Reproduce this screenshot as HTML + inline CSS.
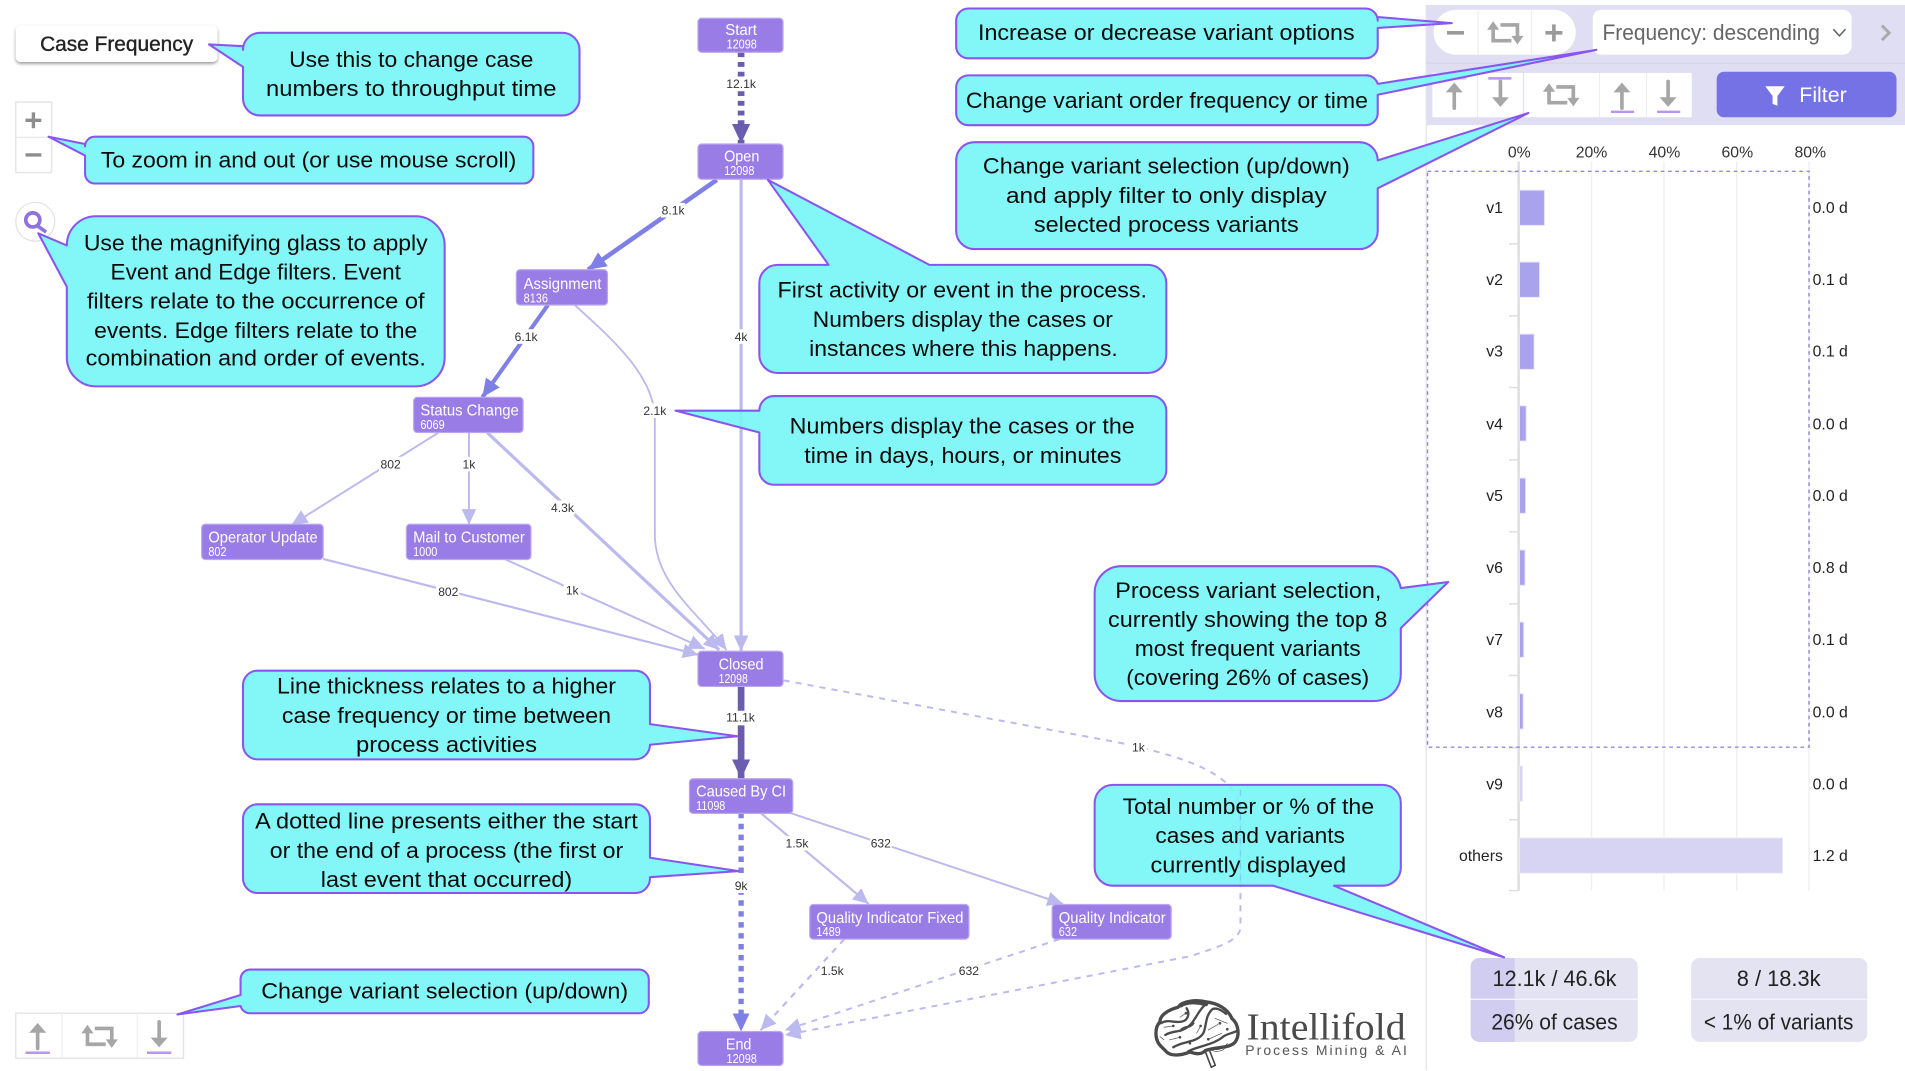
<!DOCTYPE html>
<html><head><meta charset="utf-8"><title>Process variants diagram</title>
<style>
html,body{margin:0;padding:0;background:#fff;width:1905px;height:1071px;overflow:hidden}
svg{display:block;font-family:"Liberation Sans",sans-serif}
.c{fill:#76f6f6;fill-opacity:.9;stroke:#8a55ee;stroke-width:1.7;stroke-linejoin:round}
.t{font-size:18.5px;fill:#0a0a0a;text-anchor:middle}
.n{fill:#9a7ce6;stroke:#b9a6ef;stroke-width:1}
.nl{font-size:13px;fill:#fff}
.nc{font-size:10.5px;fill:#fff}
.el{font-size:10px;fill:#333;text-anchor:middle}
.lb{fill:#fff}
.cl{font-size:13px;fill:#222;text-anchor:end}
.cr{font-size:13px;fill:#222}
.ax{font-size:13px;fill:#333;text-anchor:middle}
.st{font-size:18.5px;fill:#222;text-anchor:middle}
.ic{fill:none;stroke:#a6a6a6;stroke-width:3}
.icf{fill:#a6a6a6}
</style></head><body>
<svg xmlns="http://www.w3.org/2000/svg" width="1905" height="1071" viewBox="0 0 1568 881.5">
<defs>
<filter id="sh" x="-10%" y="-30%" width="120%" height="170%"><feDropShadow dx="0" dy="1.5" stdDeviation="1.4" flood-color="#000" flood-opacity=".4"/></filter>
<marker id="mD" markerUnits="userSpaceOnUse" markerWidth="19" markerHeight="18" refX="16" refY="8" orient="auto"><path d="M0,0.5L16,8L0,15.5Z" fill="#6a5db0"/></marker>
<marker id="mB" markerUnits="userSpaceOnUse" markerWidth="18" markerHeight="16" refX="15" refY="7" orient="auto"><path d="M0,0L15,7L0,14Z" fill="#7f80e6"/></marker>
<marker id="mL" markerUnits="userSpaceOnUse" markerWidth="16" markerHeight="14" refX="13" refY="6" orient="auto"><path d="M0,0L13,6L0,12Z" fill="#bcb9ee"/></marker>
<g id="rep"><path class="ic" d="M-10,-4V6.5H5"/><path class="ic" d="M-4,-6.5H10V4"/><path class="icf" d="M-10,-9.5L-15,-2.5H-5Z"/><path class="icf" d="M10,9.5L15,2.5H5Z"/></g>
<g id="up"><path class="ic" d="M0,-5V10" stroke-linecap="round"/><path class="icf" d="M0,-11L-7,-3H7Z"/></g>
<g id="dn"><path class="ic" d="M0,5V-10" stroke-linecap="round"/><path class="icf" d="M0,11L-7,3H7Z"/></g>
</defs>

<!-- left controls -->
<rect x="13" y="21" width="166" height="30" rx="4" fill="#fff" filter="url(#sh)"/>
<text x="96" y="42" font-size="17.5" fill="#222" text-anchor="middle" textLength="126" lengthAdjust="spacingAndGlyphs" stroke="#222" stroke-width=".3">Case Frequency</text>
<rect x="13" y="84" width="29.5" height="58" fill="#fff" stroke="#e5e5e5" stroke-width="1.2"/>
<path d="M13,113H42.5" stroke="#e5e5e5"/>
<path d="M21,99H34M27.5,92.5V105.5M21,127.5H34" stroke="#8d8d8d" stroke-width="2.8" fill="none"/>
<circle cx="29" cy="182.5" r="16" fill="#fff" stroke="#e2e2e2"/>
<circle cx="27" cy="181" r="5.8" fill="none" stroke="#8f72dc" stroke-width="3"/>
<path d="M31,186L38,191" stroke="#8f72dc" stroke-width="3"/>

<!-- bottom left controls -->
<rect x="13" y="834" width="138" height="37" fill="#fff" stroke="#e5e5e5" stroke-width="1.2"/>
<path d="M51,834V871M113,834V871" stroke="#eee"/>
<use href="#up" x="31" y="853"/><use href="#rep" x="82" y="853"/><use href="#dn" x="131" y="851"/>
<path d="M21,866.5H41M121,866.5H141" stroke="#b795ee" stroke-width="2"/>

<!-- right panel -->
<path d="M1174,4V881" stroke="#e6e6e6" stroke-width="1.2"/>
<rect x="1174" y="4" width="394" height="99" fill="#e0def2"/>
<path d="M1174,52H1568" stroke="#d6d4e8"/>
<rect x="1180" y="8" width="117" height="37" rx="18.5" fill="#fff"/>
<path d="M1216.5,8V45M1260.5,8V45" stroke="#eee"/>
<path d="M1191,27H1205M1272,27H1286M1279,20V34" stroke="#9a9a9a" stroke-width="3"/>
<use href="#rep" x="1239" y="27"/>
<rect x="1311" y="8" width="213" height="37" rx="7" fill="#fff"/>
<text x="1319" y="33" font-size="18" fill="#666" textLength="179" lengthAdjust="spacingAndGlyphs">Frequency: descending</text>
<path d="M1509,24L1514,29.5L1519,24" fill="none" stroke="#666" stroke-width="1.3"/>
<path d="M1549,21L1555,27L1549,33" fill="none" stroke="#aaa" stroke-width="2.4"/>
<g fill="#fff"><rect x="1179" y="60" width="37" height="36.5"/><rect x="1216.5" y="60" width="37" height="36.5"/><rect x="1254.5" y="60" width="62" height="36.5"/><rect x="1317" y="60" width="38" height="36.5"/><rect x="1355.5" y="60" width="37" height="36.5"/></g>
<use href="#up" x="1197" y="79"/><use href="#dn" x="1235" y="77"/><use href="#rep" x="1285" y="78"/><use href="#up" x="1335" y="79"/><use href="#dn" x="1373" y="77"/>
<path d="M1188,64.5H1207" stroke="#cfcdea" stroke-width="2"/>
<path d="M1225,64.5H1244M1326,92H1345M1364,92H1383" stroke="#b795ee" stroke-width="2"/>
<rect x="1413" y="59" width="148" height="37.5" rx="6" fill="#7572e6"/>
<path d="M1453,71H1469L1463,79V87L1459,85.5V79Z" fill="#fff"/>
<text x="1481" y="84" font-size="17.5" fill="#fff" textLength="39" lengthAdjust="spacingAndGlyphs">Filter</text>

<!-- chart -->
<g class="ax"><text x="1250.5" y="129.5">0%</text><text x="1310" y="129.5">20%</text><text x="1370" y="129.5">40%</text><text x="1430" y="129.5">60%</text><text x="1490" y="129.5">80%</text></g>
<path d="M1310,133V733M1369.6,133V733M1429.5,133V733M1489,133V733" stroke="#f0f0f0" stroke-width="1.2"/>
<path d="M1250,133V733" stroke="#dedede" stroke-width="2"/>
<path d="M1242,141.5H1250M1242,200.7H1250M1242,260H1250M1242,319H1250M1242,378.5H1250M1242,437.7H1250M1242,497H1250M1242,556H1250M1242,615.5H1250M1242,674.7H1250M1242,733H1250" stroke="#dedede" stroke-width="1.2"/>
<g fill="#a8a3ec" stroke="#e6e4f8" stroke-width=".8">
<rect x="1250.7" y="156.5" width="20.5" height="29"/>
<rect x="1250.7" y="215.7" width="16.5" height="29"/>
<rect x="1250.7" y="275" width="12" height="29"/>
<rect x="1250.7" y="334" width="5.5" height="29"/>
<rect x="1250.7" y="393.5" width="5" height="29"/>
<rect x="1250.7" y="452.7" width="4.5" height="29"/>
<rect x="1250.7" y="512" width="3.5" height="29"/>
<rect x="1250.7" y="571" width="3" height="29"/>
</g>
<g fill="#d6d4f2" stroke="#eceaf9" stroke-width=".8">
<rect x="1250.7" y="630.5" width="2.5" height="29"/>
<rect x="1250.7" y="689.7" width="216.5" height="29"/>
</g>
<g class="cl"><text x="1237" y="175.5">v1</text><text x="1237" y="234.5">v2</text><text x="1237" y="293.5">v3</text><text x="1237" y="353.5">v4</text><text x="1237" y="412.5">v5</text><text x="1237" y="471.5">v6</text><text x="1237" y="531">v7</text><text x="1237" y="590.5">v8</text><text x="1237" y="650">v9</text><text x="1237" y="708.5">others</text></g>
<g class="cr"><text x="1492" y="175.5">0.0 d</text><text x="1492" y="234.5">0.1 d</text><text x="1492" y="293.5">0.1 d</text><text x="1492" y="353.5">0.0 d</text><text x="1492" y="412.5">0.0 d</text><text x="1492" y="471.5">0.8 d</text><text x="1492" y="531">0.1 d</text><text x="1492" y="590.5">0.0 d</text><text x="1492" y="650">0.0 d</text><text x="1492" y="708.5">1.2 d</text></g>
<rect x="1175" y="141" width="314" height="474" fill="none" stroke="#9a85dc" stroke-width="1.2" stroke-dasharray="3 3"/>

<!-- stats -->
<rect x="1210.5" y="788.5" width="137.5" height="69" rx="7" fill="#e4e3f1"/>
<path d="M1246.7,788.5H1217.5a7,7 0 0 0-7,7V850.5a7,7 0 0 0 7,7H1246.7Z" fill="#d0cdf0"/>
<rect x="1392" y="788.5" width="145" height="69" rx="7" fill="#e4e3f1"/>
<path d="M1210.5,822.5H1348M1392,822.5H1537" stroke="#f4f3fb" stroke-width="1.2"/>
<text class="st" x="1279.5" y="811.5" textLength="102" lengthAdjust="spacingAndGlyphs">12.1k / 46.6k</text>
<text class="st" x="1279.5" y="847.5" textLength="104" lengthAdjust="spacingAndGlyphs">26% of cases</text>
<text class="st" x="1464" y="811.5" textLength="69" lengthAdjust="spacingAndGlyphs">8 / 18.3k</text>
<text class="st" x="1464" y="847.5" textLength="123" lengthAdjust="spacingAndGlyphs">&lt; 1% of variants</text>

<!-- edges -->
<g fill="none" stroke-linecap="butt">
<path d="M610,148V536" stroke="#bcb9ee" stroke-width="2.6" marker-end="url(#mL)"/>
<path d="M473,251C505,280 539,310 539,345V440C539,480 575,505 598,535" stroke="#bcb9ee" stroke-width="1.5" marker-end="url(#mL)"/>
<path d="M401,356L592,535" stroke="#bcb9ee" stroke-width="2.6" marker-end="url(#mL)"/>
<path d="M266,460L575,539" stroke="#bcb9ee" stroke-width="1.8" marker-end="url(#mL)"/>
<path d="M415,460L580,534" stroke="#bcb9ee" stroke-width="1.6" marker-end="url(#mL)"/>
<path d="M361,356L240,432" stroke="#bcb9ee" stroke-width="1.6" marker-end="url(#mL)"/>
<path d="M386,356V432" stroke="#bcb9ee" stroke-width="1.6" marker-end="url(#mL)"/>
<path d="M626,669L715,744" stroke="#bcb9ee" stroke-width="1.8" marker-end="url(#mL)"/>
<path d="M650,669L875,744" stroke="#bcb9ee" stroke-width="1.6" marker-end="url(#mL)"/>
<path d="M695,773L626,848" stroke="#bcb9ee" stroke-width="1.8" stroke-dasharray="5 5" marker-end="url(#mL)"/>
<path d="M872,773L646,848" stroke="#bcb9ee" stroke-width="1.6" stroke-dasharray="5 5" marker-end="url(#mL)"/>
<path d="M645,560L920,611C985,625 1021,640 1021,670V763C1021,775 1000,780 980,787L646,852" stroke="#bcb9ee" stroke-width="1.6" stroke-dasharray="5 5" marker-end="url(#mL)"/>
<path d="M590,148L484,222" stroke="#7f80e6" stroke-width="3.8" marker-end="url(#mB)"/>
<path d="M451,251L397,327" stroke="#7f80e6" stroke-width="3.4" marker-end="url(#mB)"/>
<path d="M610,43V118" stroke="#6a5db0" stroke-width="5.5" stroke-dasharray="4 4" marker-end="url(#mD)"/>
<path d="M610,565V641" stroke="#6a5db0" stroke-width="5.5" marker-end="url(#mD)"/>
<path d="M610,669V849" stroke="#7f80e6" stroke-width="4.4" stroke-dasharray="4.5 4.5" marker-end="url(#mB)"/>
</g>

<!-- edge labels -->
<g class="lb">
<rect x="597" y="63" width="26" height="12"/><rect x="544" y="167" width="20" height="12"/><rect x="423" y="271" width="20" height="12"/><rect x="603" y="271" width="14" height="12"/><rect x="529" y="332" width="20" height="12"/><rect x="312" y="376" width="19" height="12"/><rect x="380" y="376" width="12" height="12"/><rect x="453" y="412" width="20" height="12"/><rect x="359" y="481" width="19" height="12"/><rect x="464" y="480" width="14" height="12"/><rect x="597" y="585" width="25" height="12"/><rect x="646" y="688" width="20" height="12"/><rect x="716" y="688" width="18" height="12"/><rect x="603" y="723" width="14" height="12"/><rect x="675" y="793" width="20" height="12"/><rect x="788" y="793" width="19" height="12"/><rect x="930" y="609" width="14" height="12"/>
</g>
<g class="el">
<text x="610" y="72.5">12.1k</text><text x="554" y="176.5">8.1k</text><text x="433" y="280.5">6.1k</text><text x="610" y="280.5">4k</text><text x="539" y="341.5">2.1k</text><text x="321.5" y="385.5">802</text><text x="386" y="385.5">1k</text><text x="463" y="421.5">4.3k</text><text x="369" y="490.5">802</text><text x="471" y="489.5">1k</text><text x="609.5" y="594">11.1k</text><text x="656" y="697.5">1.5k</text><text x="725" y="697.5">632</text><text x="610" y="732.5">9k</text><text x="685" y="802.5">1.5k</text><text x="797.5" y="802.5">632</text><text x="937" y="618.5">1k</text>
</g>

<!-- nodes -->
<rect class="n" x="574.5" y="15" width="70" height="28" rx="3"/>
<text class="nl" x="597" y="29" textLength="26" lengthAdjust="spacingAndGlyphs">Start</text><text class="nc" x="598" y="40" textLength="25" lengthAdjust="spacingAndGlyphs">12098</text>
<rect class="n" x="574.5" y="118.5" width="70" height="29" rx="3"/>
<text class="nl" x="596" y="133" textLength="29" lengthAdjust="spacingAndGlyphs">Open</text><text class="nc" x="596" y="144" textLength="25" lengthAdjust="spacingAndGlyphs">12098</text>
<rect class="n" x="425" y="222" width="75" height="29" rx="3"/>
<text class="nl" x="431" y="238" textLength="64" lengthAdjust="spacingAndGlyphs">Assignment</text><text class="nc" x="431" y="249" textLength="20" lengthAdjust="spacingAndGlyphs">8136</text>
<rect class="n" x="340.5" y="327" width="90" height="29" rx="3"/>
<text class="nl" x="346" y="342" textLength="81" lengthAdjust="spacingAndGlyphs">Status Change</text><text class="nc" x="346" y="353" textLength="20" lengthAdjust="spacingAndGlyphs">6069</text>
<rect class="n" x="166" y="431.5" width="100" height="29" rx="3"/>
<text class="nl" x="171.5" y="446.5" textLength="90" lengthAdjust="spacingAndGlyphs">Operator Update</text><text class="nc" x="171.5" y="457.5" textLength="15" lengthAdjust="spacingAndGlyphs">802</text>
<rect class="n" x="334.5" y="431.5" width="102.5" height="29" rx="3"/>
<text class="nl" x="340" y="446.5" textLength="92" lengthAdjust="spacingAndGlyphs">Mail to Customer</text><text class="nc" x="340" y="457.5" textLength="20" lengthAdjust="spacingAndGlyphs">1000</text>
<rect class="n" x="574.5" y="536" width="70" height="29" rx="3"/>
<text class="nl" x="591.5" y="551" textLength="37" lengthAdjust="spacingAndGlyphs">Closed</text><text class="nc" x="591.5" y="562" textLength="24" lengthAdjust="spacingAndGlyphs">12098</text>
<rect class="n" x="567.5" y="641" width="85" height="28.5" rx="3"/>
<text class="nl" x="573" y="655.5" textLength="74" lengthAdjust="spacingAndGlyphs">Caused By CI</text><text class="nc" x="573" y="666.5" textLength="24" lengthAdjust="spacingAndGlyphs">11098</text>
<rect class="n" x="666.5" y="744.5" width="131" height="28.5" rx="3"/>
<text class="nl" x="672" y="759.5" textLength="121" lengthAdjust="spacingAndGlyphs">Quality Indicator Fixed</text><text class="nc" x="672" y="770.5" textLength="20" lengthAdjust="spacingAndGlyphs">1489</text>
<rect class="n" x="866" y="744.5" width="98" height="28.5" rx="3"/>
<text class="nl" x="871.5" y="759.5" textLength="88" lengthAdjust="spacingAndGlyphs">Quality Indicator</text><text class="nc" x="871.5" y="770.5" textLength="15" lengthAdjust="spacingAndGlyphs">632</text>
<rect class="n" x="574.5" y="849" width="70" height="28" rx="3"/>
<text class="nl" x="597.5" y="864" textLength="21" lengthAdjust="spacingAndGlyphs">End</text><text class="nc" x="598" y="875" textLength="25" lengthAdjust="spacingAndGlyphs">12098</text>

<!-- callouts -->
<path class="c" d="M214,27H463a14,14 0 0 1 14,14V81a14,14 0 0 1-14,14H214a14,14 0 0 1-14-14V55L172,36.5L200,38V41a14,14 0 0 1 14-14Z"/>
<path class="c" d="M78,112.5H431a8,8 0 0 1 8,8V143a8,8 0 0 1-8,8H78a8,8 0 0 1-8-8V128L40,112.5L70,118.5V120.5a8,8 0 0 1 8-8Z"/>
<path class="c" d="M79,178H342a24,24 0 0 1 24,24V294a24,24 0 0 1-24,24H79a24,24 0 0 1-24-24V236L31.5,192L55,202a24,24 0 0 1 24-24Z"/>
<path class="c" d="M797,7H1124a10,10 0 0 1 10,10V14L1195,19L1134,23V38a10,10 0 0 1-10,10H797a10,10 0 0 1-10-10V17a10,10 0 0 1 10-10Z"/>
<path class="c" d="M797,62H1124a10,10 0 0 1 10,7L1314,41L1134,78V93a10,10 0 0 1-10,10H797a10,10 0 0 1-10-10V72a10,10 0 0 1 10-10Z"/>
<path class="c" d="M802,117H1119a15,15 0 0 1 15,15L1258,93L1134,155V190a15,15 0 0 1-15,15H802a15,15 0 0 1-15-15V132a15,15 0 0 1 15-15Z"/>
<path class="c" d="M640,218H682L632,148L765,218H945a15,15 0 0 1 15,15V292a15,15 0 0 1-15,15H640a15,15 0 0 1-15-15V233a15,15 0 0 1 15-15Z"/>
<path class="c" d="M637,326H948a12,12 0 0 1 12,12V387a12,12 0 0 1-12,12H637a12,12 0 0 1-12-12V356L556,338H625a12,12 0 0 1 12-12Z"/>
<path class="c" d="M923,466H1131a22,22 0 0 1 22,18L1192,479L1153,517V555a22,22 0 0 1-22,22H923a22,22 0 0 1-22-22V488a22,22 0 0 1 22-22Z"/>
<path class="c" d="M916,646H1138a15,15 0 0 1 15,15V714a15,15 0 0 1-15,15H1098L1238,788L1048,729H916a15,15 0 0 1-15-15V661a15,15 0 0 1 15-15Z"/>
<path class="c" d="M212,552H523a12,12 0 0 1 12,12V596L607,606L535,613a12,12 0 0 1-12,12H212a12,12 0 0 1-12-12V564a12,12 0 0 1 12-12Z"/>
<path class="c" d="M212,662H523a12,12 0 0 1 12,12V706L608,717L535,722V723a12,12 0 0 1-12,12H212a12,12 0 0 1-12-12V674a12,12 0 0 1 12-12Z"/>
<path class="c" d="M206,798H526a8,8 0 0 1 8,8V826a8,8 0 0 1-8,8H206a8,8 0 0 1-8-6L146,835L198,819V806a8,8 0 0 1 8-8Z"/>

<!-- dashed edge faintly through callout -->
<path d="M1021,650V729" stroke="#7fa6ee" stroke-width="1.1" stroke-dasharray="5 5" fill="none" opacity=".55"/>

<!-- callout text -->
<text class="t" x="338.5" y="55" textLength="201" lengthAdjust="spacingAndGlyphs">Use this to change case</text>
<text class="t" x="338.5" y="79" textLength="239" lengthAdjust="spacingAndGlyphs">numbers to throughput time</text>
<text class="t" x="254" y="138" textLength="342" lengthAdjust="spacingAndGlyphs">To zoom in and out (or use mouse scroll)</text>
<text class="t" x="210.5" y="206" textLength="283" lengthAdjust="spacingAndGlyphs">Use the magnifying glass to apply</text>
<text class="t" x="210.5" y="230" textLength="239" lengthAdjust="spacingAndGlyphs">Event and Edge filters. Event</text>
<text class="t" x="210.5" y="254" textLength="278" lengthAdjust="spacingAndGlyphs">filters relate to the occurrence of</text>
<text class="t" x="210.5" y="278" textLength="266" lengthAdjust="spacingAndGlyphs">events. Edge filters relate to the</text>
<text class="t" x="210.5" y="301" textLength="280" lengthAdjust="spacingAndGlyphs">combination and order of events.</text>
<text class="t" x="960" y="33" textLength="310" lengthAdjust="spacingAndGlyphs">Increase or decrease variant options</text>
<text class="t" x="960.5" y="89" textLength="331" lengthAdjust="spacingAndGlyphs">Change variant order frequency or time</text>
<text class="t" x="960" y="143" textLength="302" lengthAdjust="spacingAndGlyphs">Change variant selection (up/down)</text>
<text class="t" x="960" y="167" textLength="264" lengthAdjust="spacingAndGlyphs">and apply filter to only display</text>
<text class="t" x="960" y="191" textLength="218" lengthAdjust="spacingAndGlyphs">selected process variants</text>
<text class="t" x="792" y="245" textLength="304" lengthAdjust="spacingAndGlyphs">First activity or event in the process.</text>
<text class="t" x="792.5" y="269" textLength="247" lengthAdjust="spacingAndGlyphs">Numbers display the cases or</text>
<text class="t" x="793" y="293" textLength="254" lengthAdjust="spacingAndGlyphs">instances where this happens.</text>
<text class="t" x="792" y="357" textLength="284" lengthAdjust="spacingAndGlyphs">Numbers display the cases or the</text>
<text class="t" x="792.5" y="381" textLength="261" lengthAdjust="spacingAndGlyphs">time in days, hours, or minutes</text>
<text class="t" x="1027.5" y="492" textLength="219" lengthAdjust="spacingAndGlyphs">Process variant selection,</text>
<text class="t" x="1027" y="516" textLength="230" lengthAdjust="spacingAndGlyphs">currently showing the top 8</text>
<text class="t" x="1027" y="540" textLength="186" lengthAdjust="spacingAndGlyphs">most frequent variants</text>
<text class="t" x="1027" y="564" textLength="200" lengthAdjust="spacingAndGlyphs">(covering 26% of cases)</text>
<text class="t" x="1027.5" y="670" textLength="207" lengthAdjust="spacingAndGlyphs">Total number or % of the</text>
<text class="t" x="1029" y="694" textLength="156" lengthAdjust="spacingAndGlyphs">cases and variants</text>
<text class="t" x="1027.5" y="718" textLength="161" lengthAdjust="spacingAndGlyphs">currently displayed</text>
<text class="t" x="367.5" y="571" textLength="279" lengthAdjust="spacingAndGlyphs">Line thickness relates to a higher</text>
<text class="t" x="367.5" y="595" textLength="271" lengthAdjust="spacingAndGlyphs">case frequency or time between</text>
<text class="t" x="367.5" y="619" textLength="149" lengthAdjust="spacingAndGlyphs">process activities</text>
<text class="t" x="367.5" y="682" textLength="315" lengthAdjust="spacingAndGlyphs">A dotted line presents either the start</text>
<text class="t" x="367.5" y="706" textLength="291" lengthAdjust="spacingAndGlyphs">or the end of a process (the first or</text>
<text class="t" x="367.5" y="730" textLength="207" lengthAdjust="spacingAndGlyphs">last event that occurred)</text>
<text class="t" x="366" y="822" textLength="302" lengthAdjust="spacingAndGlyphs">Change variant selection (up/down)</text>

<!-- logo -->
<g transform="translate(938.3,814.8) scale(.2743)" fill="none" stroke="#4a4a4a" stroke-linecap="round" stroke-linejoin="round">
<path d="M195,182L214,232L226,226L208,180" stroke-width="5" fill="#fff"/>
<path stroke-width="10" fill="#fff" d="M66,172C42,152 44,112 60,96C60,72 92,58 114,52C130,32 170,28 200,36C232,40 264,56 276,86C296,102 300,136 286,156C270,176 226,170 196,182C184,196 166,192 150,186C120,198 90,200 76,182Z"/>
<path stroke-width="14" d="M122,46C140,34 172,34 198,42"/>
<path stroke-width="7" d="M62,100C85,86 100,100 125,95C145,92 150,70 140,55M76,135C100,120 120,130 145,110C165,95 170,70 192,48M100,172C130,152 170,160 190,130C200,110 195,80 215,60C225,50 245,60 258,72M145,184C170,170 220,165 250,140C264,130 280,130 292,122M122,122C132,107 150,116 160,100"/>
<path stroke-width="2" d="M72,112L100,108M88,150L120,142M120,82L138,70M170,130L182,108M205,120L240,100M225,85L262,100M205,148L245,130M60,140L72,150M210,176C232,184 256,176 262,160M216,182C236,188 252,182 258,170"/>
<g fill="#4a4a4a" stroke="none"><circle cx="100" cy="108" r="4"/><circle cx="120" cy="142" r="4"/><circle cx="138" cy="70" r="4"/><circle cx="182" cy="108" r="4"/><circle cx="240" cy="100" r="4"/><circle cx="262" cy="118" r="4"/><circle cx="205" cy="148" r="4"/><circle cx="150" cy="160" r="4"/></g>
</g>
<text x="1026" y="855.5" font-family="'Liberation Serif',serif" font-size="31" fill="#4a4a4a" textLength="131" lengthAdjust="spacingAndGlyphs">Intellifold</text>
<text x="1025" y="868.5" font-size="11.5" fill="#555" textLength="133">Process Mining &amp; AI</text>
</svg>
</body></html>
